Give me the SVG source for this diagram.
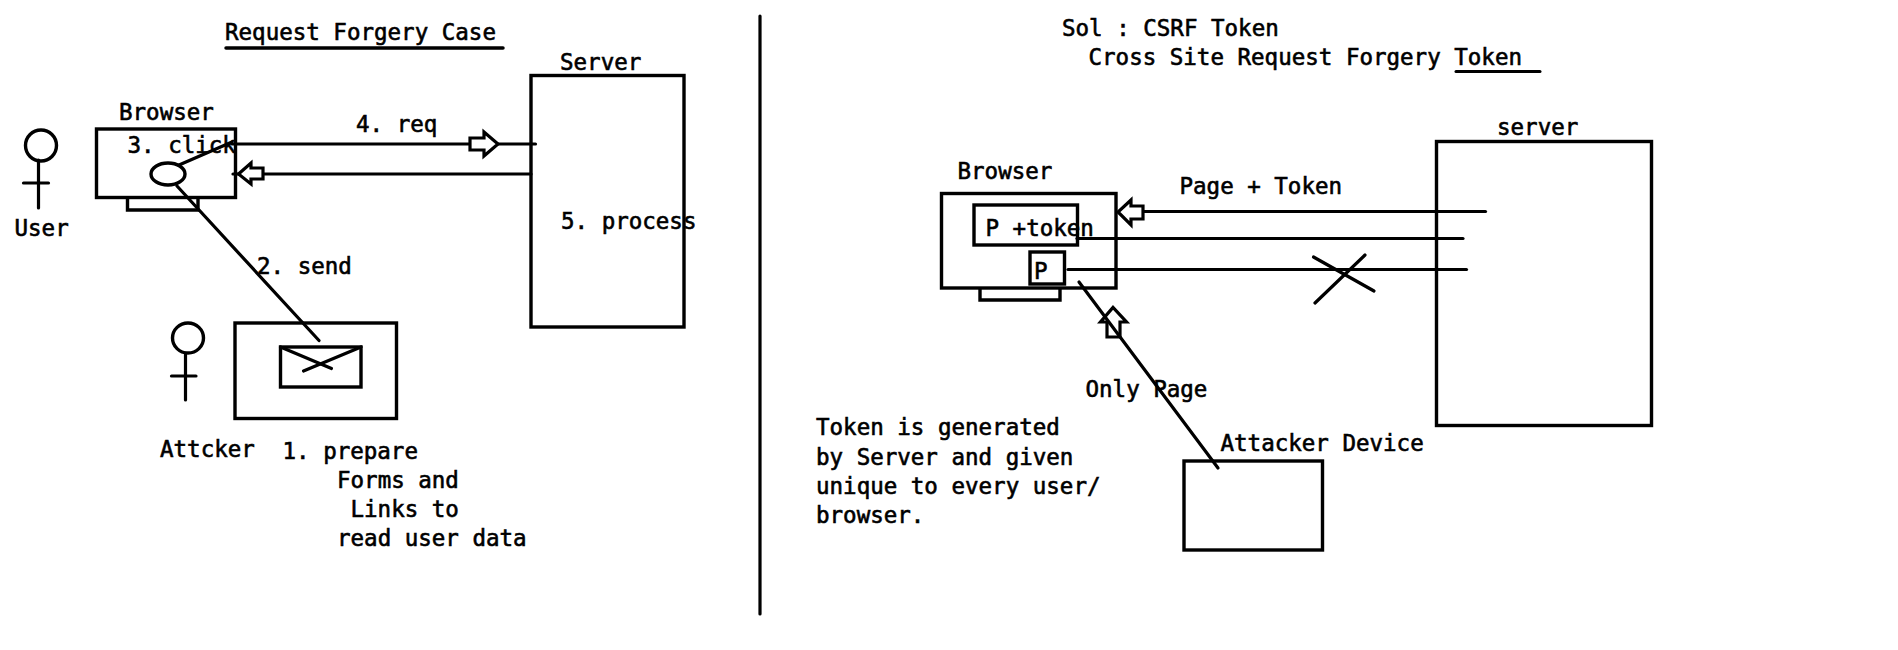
<svg xmlns="http://www.w3.org/2000/svg" width="1898" height="650" viewBox="0 0 1898 650">
<style>
text{font-family:"DejaVu Sans Mono","Liberation Mono",monospace;font-size:22.5px;fill:#000;stroke:#000;stroke-width:.6px}
rect,ellipse,polygon,.s{fill:none;stroke:#000;stroke-width:3.4}
.a{fill:#fff;stroke-width:3.2}
line{stroke:#000;stroke-width:3.2;stroke-linecap:round}
</style>
<rect width="1898" height="650" style="fill:#fff;stroke:none"/>
<g id="divider"><line x1="760" y1="16" x2="760" y2="614"/></g>
<g id="left-title"><text x="225" y="40">Request Forgery Case</text><line x1="226" y1="48" x2="503" y2="48" style="stroke-width:3.5"/></g>
<g id="left-server"><rect x="531" y="75.500" width="153" height="251.500"/><text x="560" y="70">Server</text><text x="561" y="229">5. process</text></g>
<g id="left-browser"><rect x="96.500" y="129" width="139" height="68.500"/><polyline class="s" points="127.500,197.500 127.500,210 198,210 198,197.500"/><ellipse cx="168" cy="174" rx="17" ry="11"/><text x="119" y="120">Browser</text><text x="127.500" y="153">3. click</text></g>
<g id="left-user"><ellipse cx="41" cy="145.500" rx="15.500" ry="15.500"/><line x1="38.500" y1="160" x2="38.500" y2="208"/><line x1="23.500" y1="183" x2="48.500" y2="183"/><text x="14.500" y="236">User</text></g>
<g id="left-attacker"><ellipse cx="188" cy="338" rx="15.500" ry="15"/><line x1="185.500" y1="353" x2="185.500" y2="400"/><line x1="171.500" y1="376" x2="196" y2="376"/><text x="160" y="457">Attcker</text></g>
<g id="left-mail"><rect x="235" y="323" width="161.500" height="95.500"/><rect x="280.500" y="347" width="80.500" height="40"/><line x1="280.500" y1="347" x2="331.500" y2="368.500"/><line x1="361" y1="347" x2="303.500" y2="371"/><text x="282.500" y="458.500">1. prepare</text><text x="337" y="488">Forms and</text><text x="350.500" y="517">Links to</text><text x="337" y="546">read user data</text></g>
<g id="left-connectors">
<line x1="179" y1="165" x2="232" y2="142"/>
<line x1="232" y1="144" x2="535.500" y2="144"/>
<polygon class="a" points="470,138 484,138 484,132 498,144 484,156 484,150 470,150"/>
<line x1="531" y1="174" x2="233" y2="174"/>
<polygon class="a" points="263,168 251,168 251,163 238.500,174 251,184 251,179 263,179"/>
<line x1="177" y1="186" x2="319" y2="340.500"/>
<text x="356" y="132">4. req</text><text x="257" y="274">2. send</text>
</g>
<g id="right-title"><text x="1062" y="36">Sol : CSRF Token</text><text x="1088.500" y="65">Cross Site Request Forgery Token</text><line x1="1456" y1="71.500" x2="1540" y2="71.500" style="stroke-width:3"/></g>
<g id="right-server"><rect x="1436.500" y="141.500" width="215" height="284"/><text x="1497" y="135">server</text></g>
<g id="right-browser"><rect x="941.500" y="193.500" width="174.500" height="94.500"/><polyline class="s" points="980,288 980,300 1060,300 1060,288"/><rect x="974" y="205" width="103.500" height="40"/><rect x="1030" y="252" width="34.500" height="32"/><text x="957.500" y="178.500">Browser</text><text x="985.500" y="236">P +token</text><text x="1034" y="279">P</text></g>
<g id="right-attacker"><rect x="1184" y="461" width="138.500" height="89"/><text x="1220.500" y="451">Attacker Device</text></g>
<g id="right-connectors">
<line x1="1143" y1="211.500" x2="1485.500" y2="211.500"/>
<polygon class="a" points="1143,206 1131,206 1131,200 1118,212 1131,225 1131,219 1143,219"/>
<line x1="1077" y1="238.500" x2="1463" y2="238.500"/>
<line x1="1068" y1="269.500" x2="1466.500" y2="269.500"/>
<line x1="1313.500" y1="257" x2="1374" y2="291"/>
<line x1="1365" y1="255" x2="1315" y2="303"/>
<polygon class="a" points="1107,337 1107,322 1100.500,322 1113,307.500 1126.500,322 1120,322 1120,337"/>
<line x1="1079" y1="282" x2="1218" y2="468"/>
<text x="1179.500" y="194">Page + Token</text><text x="1085.500" y="396.500">Only Page</text>
</g>
<g id="right-note"><text x="816" y="435">Token is generated</text><text x="816" y="464.500">by Server and given</text><text x="816" y="493.500">unique to every user/</text><text x="816" y="522.500">browser.</text></g>
</svg>
